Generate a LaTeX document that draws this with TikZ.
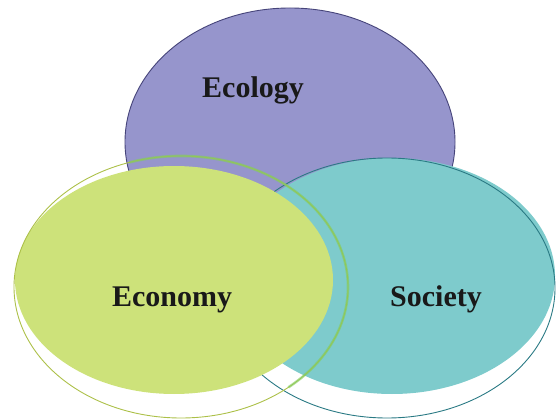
\documentclass[tikz,border=0pt]{standalone}
\usepackage{fontspec}
\setmainfont{Liberation Serif}
\usepackage{tikz}

\definecolor{ecolfill}{RGB}{150,149,204}
\definecolor{ecolline}{RGB}{70,68,122}
\definecolor{econfill}{RGB}{205,226,122}
\definecolor{econline}{RGB}{172,192,72}
\definecolor{econband}{RGB}{130,205,95}
\definecolor{socfill}{RGB}{126,203,204}
\definecolor{socline}{RGB}{42,122,132}

\begin{document}
\begin{tikzpicture}[
    x=1pt,
    y=-1pt,
    label/.style={anchor=base, inner sep=0pt, text=black!90, font=\fontsize{30}{36}\selectfont\bfseries},
    rim/.style={line width=0.9pt}
]
\useasboundingbox (0,0) rectangle (556,419);

% ecology on the back
\fill[ecolfill] (290,142) ellipse (165 and 134);
\draw[ecolline, rim] (290,142) ellipse (165 and 134);

% society
\fill[socfill] (392,276) ellipse (163 and 118);
\draw[socline, rim] (387,288) ellipse (168 and 130);

% economy on top
\fill[econfill] (174,280) ellipse (159 and 114);
\draw[econline, rim] (181,287) ellipse (167 and 131);
\draw[econband, line width=2.6pt, opacity=0.6]
    ([shift={(252:167 and 131)}]181,287) arc[start angle=252, end angle=410, x radius=167, y radius=131];

\node[label] (ecology) at (253,98) {Ecology};
\node[label] (economy) at (172,306) {Economy};
\node[label] (society) at (436,306) {Society};
\end{tikzpicture}
\end{document}
